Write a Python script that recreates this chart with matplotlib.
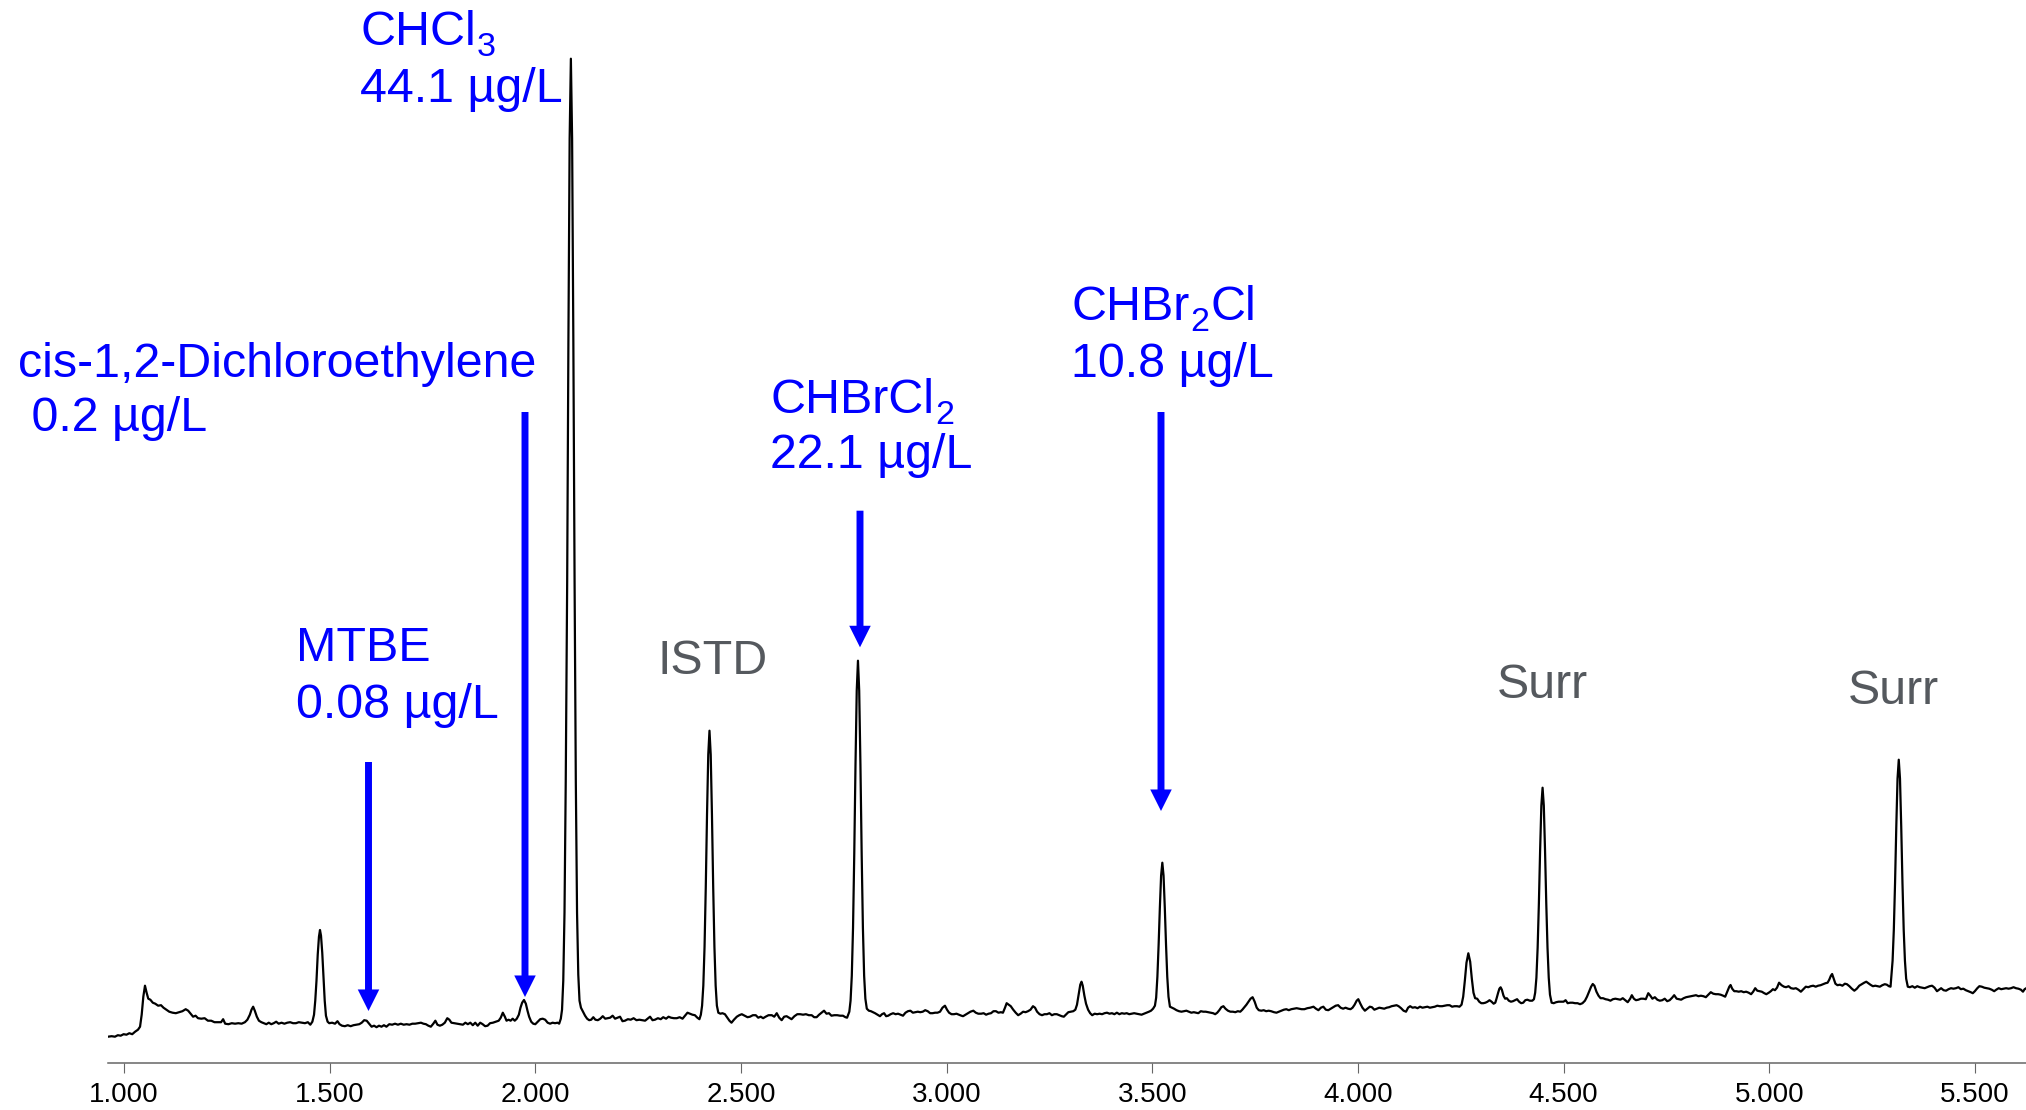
import matplotlib
matplotlib.use("Agg")
import matplotlib.pyplot as plt
import numpy as np

plt.rcParams['font.family'] = ['Liberation Sans', 'DejaVu Sans']

# ---------------- data: chromatogram (retention time [min], response) ----------------
seg_a = [(0.961, 26), (0.970, 26.5), (0.978, 26), (0.985, 27.5), (0.992, 27), (0.999, 28.5),
         (1.006, 28), (1.013, 29.5), (1.020, 28.5), (1.027, 31), (1.034, 33), (1.039, 36),
         (1.043, 48), (1.047, 66), (1.051, 77), (1.055, 70), (1.059, 64), (1.064, 63),
         (1.070, 60), (1.076, 59), (1.083, 57), (1.090, 57.5), (1.096, 55), (1.103, 53),
         (1.110, 51), (1.118, 50), (1.126, 49.5), (1.134, 50.5), (1.142, 51.5), (1.150, 53.5),
         (1.156, 52), (1.162, 49), (1.168, 46), (1.174, 47), (1.180, 44.5), (1.188, 44),
         (1.196, 44.5), (1.204, 42), (1.212, 42), (1.220, 40.5), (1.228, 40.5), (1.236, 40.5),
         (1.241, 43.5), (1.246, 39), (1.254, 38.5), (1.262, 39.5), (1.270, 39), (1.278, 39.5),
         (1.286, 39), (1.294, 40.5), (1.300, 43), (1.306, 48), (1.310, 53), (1.314, 56),
         (1.318, 52), (1.323, 46), (1.328, 42), (1.334, 40.5), (1.340, 39.5), (1.346, 38.5),
         (1.352, 40), (1.358, 38.5), (1.364, 39.5), (1.370, 41), (1.376, 39), (1.383, 40),
         (1.390, 39), (1.397, 40), (1.404, 40.5), (1.411, 39.5), (1.418, 39.5), (1.425, 40.5),
         (1.432, 40), (1.440, 39.5), (1.447, 40.5), (1.453, 38), (1.458, 41), (1.462, 48),
         (1.465, 62), (1.468, 82), (1.471, 108), (1.474, 126), (1.4765, 132.7), (1.479, 127),
         (1.482, 110), (1.485, 85), (1.488, 62), (1.491, 47), (1.495, 41), (1.499, 39.5)]

seg_b = [(1.506, 40), (1.513, 39), (1.519, 41.5), (1.524, 38.5), (1.530, 37), (1.537, 36.5),
         (1.544, 37.5), (1.551, 36.5), (1.558, 37.5), (1.565, 38), (1.572, 38.5), (1.578, 40),
         (1.584, 42.5), (1.590, 42), (1.596, 39), (1.602, 36), (1.608, 37), (1.614, 35.5),
         (1.620, 37), (1.626, 36), (1.632, 37.5), (1.638, 36), (1.645, 38.5), (1.652, 38),
         (1.659, 39), (1.666, 38), (1.673, 39), (1.680, 38), (1.687, 38.5), (1.694, 38),
         (1.701, 39), (1.708, 39), (1.715, 39.5), (1.722, 40), (1.728, 39), (1.734, 38.5),
         (1.740, 37), (1.746, 36), (1.752, 39), (1.757, 42), (1.762, 38), (1.768, 37),
         (1.774, 38), (1.780, 40), (1.786, 44.5), (1.791, 43), (1.796, 40), (1.803, 39.5),
         (1.810, 39), (1.817, 38.5), (1.824, 38), (1.830, 40), (1.836, 38.5), (1.842, 40),
         (1.848, 37.5), (1.854, 40), (1.860, 37), (1.866, 40), (1.872, 38.5), (1.878, 36.5),
         (1.884, 37), (1.890, 39.5), (1.897, 40), (1.904, 41), (1.911, 42), (1.916, 45),
         (1.921, 50), (1.926, 46), (1.930, 42), (1.935, 43), (1.940, 42), (1.945, 44),
         (1.950, 42), (1.955, 44), (1.960, 48), (1.964, 55), (1.968, 60), (1.9725, 62.7),
         (1.977, 59), (1.981, 52), (1.985, 46), (1.990, 41), (1.995, 39), (2.000, 38.5),
         (2.006, 41), (2.012, 43.5), (2.018, 44), (2.024, 43), (2.030, 40), (2.036, 39),
         (2.042, 40), (2.048, 39.5), (2.054, 40), (2.058, 39)]

seg_c = [(2.062, 44), (2.065, 53), (2.068, 82), (2.071, 150), (2.074, 281), (2.0775, 481),
         (2.0805, 722), (2.0835, 924), (2.0865, 1004), (2.0895, 924), (2.0925, 722),
         (2.0955, 481), (2.0985, 281), (2.1015, 150), (2.1045, 88), (2.1075, 62), (2.111, 55),
         (2.116, 51), (2.121, 47), (2.126, 44), (2.131, 42.5), (2.136, 43), (2.141, 45.5),
         (2.146, 43), (2.152, 42.5), (2.158, 44), (2.164, 46.5), (2.170, 44), (2.176, 44.5),
         (2.182, 45), (2.188, 47), (2.194, 44), (2.200, 45), (2.206, 46), (2.212, 41.5),
         (2.218, 42), (2.225, 43.5), (2.232, 43), (2.239, 44.5), (2.246, 42.5), (2.253, 43),
         (2.260, 42.5), (2.267, 42), (2.273, 44), (2.279, 46), (2.285, 42.5), (2.291, 43),
         (2.298, 44.5), (2.305, 43.5), (2.311, 45.5), (2.318, 44), (2.324, 46), (2.330, 45),
         (2.337, 44.5), (2.344, 44.5), (2.351, 45.5), (2.358, 44), (2.364, 47), (2.370, 50),
         (2.376, 49), (2.382, 48), (2.388, 47.5), (2.394, 45), (2.399, 43.5)]

seg_d = [(2.4025, 48), (2.4055, 57), (2.4085, 77), (2.4115, 116), (2.4145, 176), (2.4175, 248),
         (2.4205, 308), (2.4235, 332), (2.4265, 308), (2.4295, 248), (2.4325, 176),
         (2.4355, 116), (2.4385, 77), (2.4415, 57), (2.445, 50), (2.450, 49), (2.455, 49.5),
         (2.461, 48.5), (2.467, 45), (2.472, 42), (2.477, 40), (2.483, 43), (2.490, 46),
         (2.496, 47.5), (2.502, 48.5), (2.509, 47), (2.516, 45.5), (2.522, 46), (2.529, 47.5),
         (2.536, 47.5), (2.542, 45), (2.548, 46), (2.554, 44.5), (2.560, 46), (2.567, 47.5),
         (2.575, 47.5), (2.581, 46), (2.587, 49.5), (2.593, 45), (2.599, 42.5), (2.605, 46),
         (2.611, 46.5), (2.617, 45), (2.623, 43.5), (2.630, 46.5), (2.637, 48.5), (2.644, 48.5),
         (2.651, 48), (2.658, 48.5), (2.665, 47.5), (2.672, 47.5), (2.678, 45.5), (2.684, 45.5),
         (2.690, 48), (2.696, 50), (2.702, 52), (2.708, 49), (2.714, 49.5), (2.720, 47),
         (2.727, 47.5), (2.734, 47.5), (2.741, 47), (2.748, 47), (2.754, 45.5), (2.758, 45)]

seg_e = [(2.7635, 51), (2.7665, 62), (2.7695, 87), (2.7725, 135), (2.7755, 209), (2.7785, 298),
         (2.7815, 372), (2.7845, 402), (2.7875, 372), (2.7905, 298), (2.7935, 209),
         (2.7965, 135), (2.7995, 87), (2.8025, 64), (2.806, 54), (2.811, 52), (2.816, 51.5),
         (2.821, 50.5), (2.826, 49.5), (2.832, 48), (2.838, 46.5), (2.843, 48.5), (2.848, 49.5),
         (2.853, 46.5), (2.858, 47), (2.864, 48.5), (2.870, 49.5), (2.876, 48.5), (2.882, 49),
         (2.888, 48), (2.894, 47), (2.900, 50), (2.906, 51.5), (2.912, 52), (2.918, 50),
         (2.924, 50.5), (2.930, 51), (2.936, 50.5), (2.942, 51), (2.948, 52.5), (2.954, 51.5),
         (2.960, 49.5), (2.966, 49.5), (2.972, 50), (2.978, 50), (2.984, 51), (2.990, 55),
         (2.996, 57), (3.001, 53), (3.006, 50), (3.012, 48.5), (3.018, 48.5), (3.024, 49),
         (3.030, 48), (3.036, 47), (3.040, 46.5), (3.046, 48), (3.052, 49.5), (3.058, 51),
         (3.065, 52), (3.071, 50), (3.077, 49), (3.084, 49), (3.090, 49.5), (3.096, 48),
         (3.102, 49), (3.108, 49.5), (3.114, 51.5), (3.120, 51.5), (3.126, 50), (3.132, 50.5),
         (3.137, 50), (3.142, 55), (3.146, 59.5), (3.151, 58), (3.156, 56.5), (3.162, 53),
         (3.168, 50), (3.174, 47.5), (3.180, 49), (3.186, 51), (3.192, 50.5), (3.198, 51.5),
         (3.204, 53), (3.210, 56.5), (3.215, 55), (3.220, 51), (3.226, 48.5), (3.232, 47.5),
         (3.238, 48.5), (3.244, 48.5), (3.250, 49.5), (3.256, 47.5), (3.262, 48.5),
         (3.268, 48.5), (3.274, 47.5), (3.280, 46.5), (3.285, 46), (3.290, 48), (3.296, 50.5),
         (3.302, 51), (3.308, 51.5), (3.313, 53), (3.317, 58), (3.321, 68), (3.325, 78),
         (3.328, 81), (3.331, 77), (3.335, 67), (3.339, 59), (3.344, 53), (3.349, 49.5),
         (3.354, 47.5), (3.360, 49), (3.366, 48.5), (3.372, 49), (3.378, 48.5), (3.384, 49.5),
         (3.390, 50), (3.396, 49), (3.402, 49.5), (3.408, 48.5), (3.414, 50), (3.420, 48.5),
         (3.426, 49.5), (3.432, 49), (3.438, 49.5), (3.444, 48.5), (3.450, 49), (3.456, 49.5),
         (3.462, 49), (3.468, 48.5), (3.474, 48), (3.480, 49), (3.486, 50), (3.492, 51),
         (3.497, 52), (3.502, 54)]

seg_f = [(3.5065, 57), (3.5095, 65), (3.5125, 86), (3.5155, 118), (3.5185, 155), (3.5215, 187),
         (3.5245, 200), (3.5275, 187), (3.5305, 155), (3.5335, 118), (3.5365, 86),
         (3.5395, 66), (3.543, 56), (3.548, 55), (3.553, 54), (3.559, 52.5), (3.565, 51.5),
         (3.571, 51), (3.577, 51.5), (3.583, 52), (3.589, 51), (3.595, 50), (3.601, 50.5),
         (3.607, 50), (3.612, 49.5), (3.618, 51.5), (3.624, 51), (3.630, 51), (3.636, 50.5),
         (3.642, 50), (3.648, 49.5), (3.653, 48.5), (3.658, 50), (3.663, 52.5), (3.668, 55.5),
         (3.673, 56.5), (3.678, 54), (3.684, 52), (3.690, 51), (3.696, 51), (3.702, 50.5),
         (3.708, 51.5), (3.714, 51), (3.719, 53), (3.724, 55.5), (3.729, 58), (3.734, 61),
         (3.739, 64), (3.744, 65.5), (3.749, 61), (3.754, 55), (3.759, 52.5), (3.765, 52),
         (3.771, 52.5), (3.777, 51.5), (3.783, 52), (3.789, 51.5), (3.796, 50.5), (3.802, 50),
         (3.808, 51), (3.814, 52), (3.820, 53), (3.826, 53.5), (3.832, 52.5), (3.838, 53.5),
         (3.845, 54), (3.851, 54.5), (3.857, 54), (3.863, 53.5), (3.870, 53.5), (3.877, 54.5),
         (3.884, 55), (3.892, 56), (3.898, 54), (3.904, 52.5), (3.910, 55), (3.916, 56),
         (3.922, 53), (3.928, 52.5), (3.934, 54), (3.940, 55.5), (3.946, 57), (3.952, 57.5),
         (3.958, 55), (3.964, 54), (3.970, 55), (3.976, 54), (3.982, 53.5), (3.987, 55),
         (3.992, 58), (3.997, 62), (4.001, 63.5), (4.006, 59), (4.011, 55), (4.017, 52),
         (4.023, 54), (4.029, 56), (4.034, 55.5), (4.040, 53), (4.046, 54), (4.052, 55),
         (4.058, 54.5), (4.064, 54), (4.070, 55), (4.076, 55.5), (4.082, 56.5), (4.088, 57),
         (4.094, 57.5), (4.099, 56.5), (4.105, 54.5), (4.111, 52), (4.117, 51), (4.122, 55),
         (4.127, 56.5), (4.133, 55), (4.139, 55.5), (4.145, 54.5), (4.151, 56), (4.157, 55),
         (4.163, 55.5), (4.169, 56), (4.175, 55), (4.181, 55.5), (4.187, 56), (4.193, 57),
         (4.199, 56.5), (4.205, 56.5), (4.211, 57), (4.217, 57.5), (4.223, 57.5), (4.229, 56),
         (4.235, 56.5), (4.241, 56.5), (4.247, 56), (4.252, 58)]

seg_g = [(4.256, 66), (4.260, 82), (4.264, 100), (4.2685, 109.4), (4.273, 101), (4.277, 84),
         (4.281, 70), (4.285, 64.5), (4.290, 64), (4.295, 61), (4.300, 59.5), (4.305, 59.5),
         (4.310, 60), (4.315, 61), (4.320, 62.5), (4.325, 61), (4.330, 59), (4.334, 60),
         (4.337, 64), (4.341, 70), (4.344, 74), (4.347, 75.4), (4.350, 73), (4.354, 67),
         (4.358, 64), (4.362, 64.5), (4.367, 62), (4.372, 61), (4.377, 61.5), (4.382, 62.5),
         (4.387, 63.5), (4.392, 61), (4.397, 59.5), (4.402, 60), (4.407, 62.5), (4.412, 63),
         (4.418, 62), (4.424, 62), (4.428, 63.5), (4.431, 70), (4.434, 85), (4.437, 115),
         (4.440, 159), (4.443, 212), (4.446, 257), (4.449, 275), (4.452, 257), (4.455, 212),
         (4.458, 159), (4.461, 115), (4.464, 85), (4.467, 68), (4.471, 60), (4.476, 59.5),
         (4.482, 60.5), (4.488, 61), (4.494, 61), (4.500, 61), (4.505, 62.5), (4.510, 59.5),
         (4.516, 60), (4.522, 60), (4.528, 59.5), (4.534, 59.5), (4.540, 58.5), (4.546, 59.5),
         (4.552, 62), (4.557, 66), (4.562, 71), (4.567, 76), (4.571, 78.7), (4.575, 77),
         (4.580, 71), (4.585, 67), (4.590, 64.5), (4.596, 64.5), (4.602, 63.5), (4.608, 63),
         (4.614, 62), (4.620, 63.5), (4.626, 64), (4.632, 63.5), (4.638, 63), (4.644, 64.5),
         (4.650, 62.5), (4.656, 60.5), (4.662, 64), (4.666, 67.5), (4.671, 64), (4.676, 62.5),
         (4.682, 63), (4.688, 64), (4.694, 64), (4.700, 63.5), (4.706, 69.5), (4.711, 67),
         (4.716, 64), (4.722, 65.5), (4.728, 63), (4.734, 62), (4.740, 62.5), (4.746, 64)]

seg_h = [(4.752, 61.5), (4.758, 62.5), (4.764, 65), (4.769, 67.5), (4.775, 64), (4.780, 63.5),
         (4.786, 63), (4.792, 64.5), (4.798, 65.5), (4.804, 66), (4.810, 66.5), (4.816, 67),
         (4.822, 67.5), (4.828, 66.5), (4.834, 67), (4.840, 66.5), (4.846, 65.5), (4.852, 68),
         (4.858, 70.5), (4.864, 69), (4.870, 68.5), (4.876, 68.5), (4.882, 68), (4.888, 67),
         (4.893, 66), (4.898, 71), (4.903, 76), (4.906, 77.7), (4.910, 74), (4.915, 71.5),
         (4.920, 71.5), (4.926, 71), (4.932, 71.5), (4.938, 70.5), (4.944, 71), (4.950, 70),
         (4.956, 68.5), (4.961, 71), (4.966, 74.5), (4.971, 72), (4.976, 71.5), (4.982, 71),
         (4.988, 69.5), (4.993, 68.5), (4.999, 70), (5.004, 71.5), (5.009, 73.5), (5.014, 72.5),
         (5.019, 75), (5.024, 80), (5.030, 77.5), (5.036, 76), (5.041, 75.5), (5.047, 76.5),
         (5.053, 74.5), (5.059, 74), (5.065, 74.5), (5.071, 73), (5.077, 71), (5.083, 73.5),
         (5.089, 76), (5.095, 75.5), (5.101, 76.5), (5.107, 77), (5.113, 76), (5.119, 77),
         (5.125, 77.5), (5.131, 78.5), (5.137, 79.5), (5.142, 80), (5.146, 83), (5.150, 87),
         (5.153, 88.7), (5.157, 84), (5.161, 79), (5.166, 77.5), (5.172, 78), (5.178, 77),
         (5.184, 79), (5.189, 78.5), (5.195, 76.5), (5.201, 74), (5.207, 72), (5.213, 74),
         (5.219, 77), (5.225, 78.5), (5.231, 80), (5.236, 81), (5.241, 79.5), (5.246, 78),
         (5.252, 76.5), (5.258, 77), (5.264, 76.5), (5.269, 76), (5.275, 77.5), (5.281, 78.5),
         (5.286, 78), (5.291, 76.5), (5.295, 76)]

seg_i = [(5.297, 86), (5.300, 102), (5.303, 133), (5.306, 180), (5.309, 236), (5.312, 284),
         (5.315, 303), (5.318, 284), (5.321, 236), (5.324, 180), (5.327, 133), (5.330, 102),
         (5.333, 84), (5.337, 76), (5.342, 75.5), (5.348, 76.5), (5.354, 75), (5.360, 76.5),
         (5.366, 75.5), (5.372, 75), (5.378, 74.5), (5.384, 75.5), (5.390, 76.5), (5.396, 77),
         (5.402, 75), (5.408, 71.5), (5.413, 73), (5.418, 74.5), (5.424, 72.5), (5.430, 72),
         (5.436, 73.5), (5.442, 74.5), (5.448, 74), (5.454, 74.5), (5.460, 75.5), (5.466, 73.5),
         (5.472, 74), (5.478, 72.5), (5.484, 71.5), (5.490, 70.5), (5.495, 69.5), (5.500, 71.5),
         (5.506, 74.5), (5.511, 76.5), (5.517, 76), (5.523, 75), (5.529, 74.5), (5.535, 74),
         (5.541, 73), (5.547, 71.5), (5.552, 73), (5.558, 74.5), (5.564, 73.5), (5.570, 74),
         (5.576, 74.5), (5.582, 74), (5.588, 74.5), (5.594, 75.5), (5.600, 74.5), (5.606, 74),
         (5.612, 73), (5.617, 71), (5.621, 73.5), (5.625, 74.5)]

tick_values = [1.0, 1.5, 2.0, 2.5, 3.0, 3.5, 4.0, 4.5, 5.0, 5.5]
tick_labels = ["1.000", "1.500", "2.000", "2.500", "3.000", "3.500", "4.000", "4.500",
               "5.000", "5.500"]

# analyte annotations: name as (text, is_subscript) pieces, and concentration line
analyte_names = [
    [("cis-1,2-Dichloroethylene", False)],
    [("CHCl", False), ("3", True)],
    [("MTBE", False)],
    [("CHBrCl", False), ("2", True)],
    [("CHBr", False), ("2", True), ("Cl", False)],
]
analyte_conc = [" 0.2 µg/L", "44.1 µg/L", "0.08 µg/L", "22.1 µg/L", "10.8 µg/L"]
other_labels = ["ISTD", "Surr", "Surr"]

# ---------------- figure ----------------
W, H = 2026, 1110
fig = plt.figure(figsize=(W / 100, H / 100), dpi=100)
axis_px_y = 1062.7
left_px = 108
ax = fig.add_axes([left_px / W, (H - axis_px_y) / H, 1 - left_px / W, axis_px_y / H])

trace = np.array(seg_a + seg_b + seg_c + seg_d + seg_e + seg_f + seg_g + seg_h + seg_i)
ax.plot(trace[:, 0], trace[:, 1], color="black", lw=1.6, solid_joinstyle="round")

x0 = 1.0 + (left_px - 124) / 411.3
x1 = 1.0 + (W - 124) / 411.3
ax.set_xlim(x0, x1)
ax.set_ylim(0, axis_px_y)

for s in ["top", "left", "right"]:
    ax.spines[s].set_visible(False)
ax.spines["bottom"].set_color("#666666")
ax.spines["bottom"].set_linewidth(1.1)
ax.set_yticks([])
ax.set_xticks(tick_values)
ax.set_xticklabels(tick_labels)
ax.tick_params(axis="x", length=7.2, width=0.8, color="#666666", labelsize=20,
               pad=7.0, labelcolor="black")

BLUE = "#0000FF"
GREY = "#55595e"
FS = 34.8
SUB_FS = 24.5
SUB_DROP = 11.0  # pixels

renderer = fig.canvas.get_renderer()


def draw_pieces(x_px, base_py, pieces, color):
    x = x_px
    for txt, sub in pieces:
        fs = SUB_FS if sub else FS
        y = H - base_py - (SUB_DROP if sub else 0.0)
        t = fig.text(x / W, y / H, txt, fontsize=fs, color=color, ha="left", va="baseline")
        bb = t.get_window_extent(renderer)
        x += bb.width + (1.5 if sub else 1.0)


# text label positions in pixels (left x, baseline of line 1, baseline of line 2)
label_pos = [(18, 377, 431), (360, 45, 101.5), (296, 661, 718), (770, 412.7, 468.5),
             (1071, 320, 377)]
for pieces, conc, (lx, b1, b2) in zip(analyte_names, analyte_conc, label_pos):
    draw_pieces(lx, b1, pieces, BLUE)
    draw_pieces(lx, b2, [(conc, False)], BLUE)

other_pos = [(657, 674), (1497, 698.3), (1848, 704)]
for lab, (lx, b) in zip(other_labels, other_pos):
    draw_pieces(lx, b, [(lab, False)], GREY)


def px_to_t(px):
    return 1.0 + (px - 124) / 411.3


def py_to_v(py):
    return axis_px_y - py


# arrows: (x px, start y px, tip y px)
arrows = [(368.5, 762, 1011), (525, 412, 997), (860, 510.7, 647.3), (1161, 412, 811)]
for ax_px, y_start, y_tip in arrows:
    ax.annotate("", xy=(px_to_t(ax_px), py_to_v(y_tip)),
                xytext=(px_to_t(ax_px), py_to_v(y_start)),
                arrowprops=dict(arrowstyle="simple,head_length=1.55,head_width=1.55,tail_width=0.5",
                                color=BLUE, lw=0, shrinkA=0, shrinkB=0, mutation_scale=10))

fig.savefig("out.png", dpi=100)
